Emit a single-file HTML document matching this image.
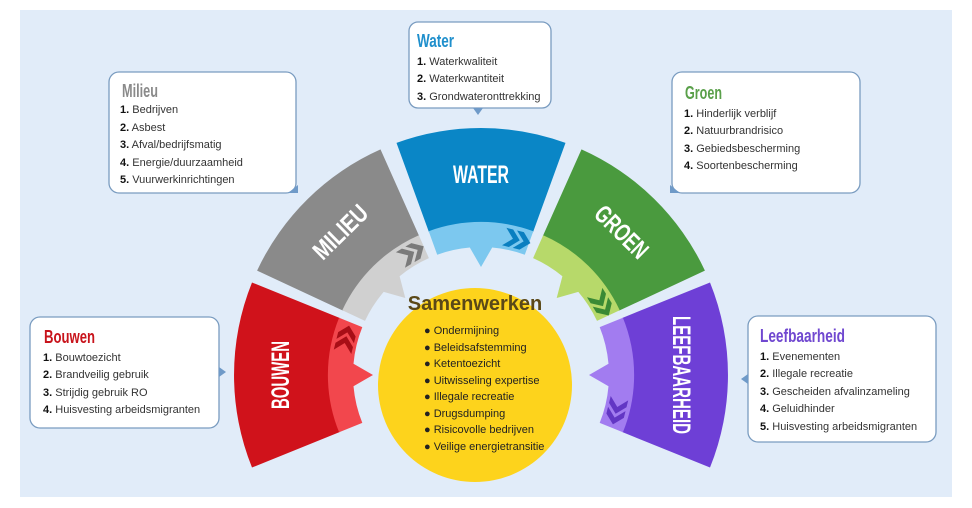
<!DOCTYPE html>
<html><head><meta charset="utf-8"><style>
html,body{margin:0;padding:0;background:#fff;width:972px;height:508px;overflow:hidden}
svg{display:block}
.t{font-family:"Liberation Sans",sans-serif;font-weight:bold}
.i{font-family:"Liberation Sans",sans-serif;font-size:11px;fill:#333}
.i tspan.n{font-weight:bold;fill:#111}
</style></head><body>
<svg id="s" width="972" height="508" viewBox="0 0 972 508" xmlns="http://www.w3.org/2000/svg">
<rect x="20" y="10" width="932" height="487" fill="#e1ecf9"/>
<g id="g"></g>
<circle cx="475" cy="385" r="97" fill="#fdd31c"/>
<text x="475" y="310" text-anchor="middle" font-family="Liberation Sans,sans-serif" font-weight="bold" font-size="20" fill="#5a4818">Samenwerken</text>
<g font-family="Liberation Sans,sans-serif" font-size="11" fill="#222">
<text x="424" y="334">● Ondermijning</text>
<text x="424" y="351">● Beleidsafstemming</text>
<text x="424" y="367">● Ketentoezicht</text>
<text x="424" y="384">● Uitwisseling expertise</text>
<text x="424" y="400">● Illegale recreatie</text>
<text x="424" y="417">● Drugsdumping</text>
<text x="424" y="433">● Risicovolle bedrijven</text>
<text x="424" y="450">● Veilige energietransitie</text>
</g>
<g stroke="#7a9cc0" stroke-width="1.3" fill="#fff">
<rect x="109" y="72" width="187" height="121" rx="10"/>
<rect x="409" y="22" width="142" height="86" rx="9"/>
<rect x="672" y="72" width="188" height="121" rx="10"/>
<rect x="30" y="317" width="189" height="111" rx="10"/>
<rect x="748" y="316" width="188" height="126" rx="10"/>
</g>
<g fill="#6f9ac8">
<path d="M288 193 L298 193 L298 185 Z"/>
<path d="M473 108 L483 108 L478 115 Z"/>
<path d="M670 185 L670 193 L680 193 Z"/>
<path d="M219 367 L226 372 L219 377 Z"/>
<path d="M748 374 L741 379 L748 384 Z"/>
</g>
<text class="t" x="122" y="97" font-size="18" fill="#8a8a8a" textLength="36" lengthAdjust="spacingAndGlyphs">Milieu</text>
<text class="i" x="120" y="113"><tspan class="n">1.</tspan> Bedrijven</text>
<text class="i" x="120" y="131"><tspan class="n">2.</tspan> Asbest</text>
<text class="i" x="120" y="148"><tspan class="n">3.</tspan> Afval/bedrijfsmatig</text>
<text class="i" x="120" y="166"><tspan class="n">4.</tspan> Energie/duurzaamheid</text>
<text class="i" x="120" y="183"><tspan class="n">5.</tspan> Vuurwerkinrichtingen</text>

<text class="t" x="417" y="47" font-size="18" fill="#1f8fcc" textLength="37" lengthAdjust="spacingAndGlyphs">Water</text>
<text class="i" x="417" y="65"><tspan class="n">1.</tspan> Waterkwaliteit</text>
<text class="i" x="417" y="82"><tspan class="n">2.</tspan> Waterkwantiteit</text>
<text class="i" x="417" y="100"><tspan class="n">3.</tspan> Grondwateronttrekking</text>

<text class="t" x="685" y="99" font-size="18" fill="#5aa04a" textLength="37" lengthAdjust="spacingAndGlyphs">Groen</text>
<text class="i" x="684" y="117"><tspan class="n">1.</tspan> Hinderlijk verblijf</text>
<text class="i" x="684" y="134"><tspan class="n">2.</tspan> Natuurbrandrisico</text>
<text class="i" x="684" y="152"><tspan class="n">3.</tspan> Gebiedsbescherming</text>
<text class="i" x="684" y="169"><tspan class="n">4.</tspan> Soortenbescherming</text>

<text class="t" x="44" y="343" font-size="18" fill="#c8141c" textLength="51" lengthAdjust="spacingAndGlyphs">Bouwen</text>
<text class="i" x="43" y="361"><tspan class="n">1.</tspan> Bouwtoezicht</text>
<text class="i" x="43" y="378"><tspan class="n">2.</tspan> Brandveilig gebruik</text>
<text class="i" x="43" y="396"><tspan class="n">3.</tspan> Strijdig gebruik RO</text>
<text class="i" x="43" y="413"><tspan class="n">4.</tspan> Huisvesting arbeidsmigranten</text>

<text class="t" x="760" y="342" font-size="18" fill="#7048d0" textLength="85" lengthAdjust="spacingAndGlyphs">Leefbaarheid</text>
<text class="i" x="760" y="360"><tspan class="n">1.</tspan> Evenementen</text>
<text class="i" x="760" y="377"><tspan class="n">2.</tspan> Illegale recreatie</text>
<text class="i" x="760" y="395"><tspan class="n">3.</tspan> Gescheiden afvalinzameling</text>
<text class="i" x="760" y="412"><tspan class="n">4.</tspan> Geluidhinder</text>
<text class="i" x="760" y="430"><tspan class="n">5.</tspan> Huisvesting arbeidsmigranten</text>
</svg>
<script>
(function(){
var cx=481,cy=375,R=247,M=152,r=128;
function p(rr,a){var t=a*Math.PI/180;return (cx+rr*Math.cos(t)).toFixed(1)+" "+(cy-rr*Math.sin(t)).toFixed(1);}
var S=[
["BOUWEN",158,202,"#d0121b","#f2474d","#a80e16",68],
["MILIEU",114,155,"#8a8a8a","#d0d0d0","#7a7a7a",66],
["WATER",70,110,"#0a86c6","#7cc8ef","#0a7fc0",56],
["GROEN",25,66,"#4a9a3e","#b7d96a","#3a8a35",64],
["LEEFBAARHEID",-22,22,"#6e3fd6","#a27cf0","#6236c4",118]];
var g=document.getElementById("g"),h="";
S.forEach(function(s){
var a1=s[1],a2=s[2],m=(a1+a2)/2;
h+='<path fill="'+s[3]+'" d="M'+p(R,a1)+' A'+R+' '+R+' 0 0 0 '+p(R,a2)+' L'+p(M,a2)+' A'+M+' '+M+' 0 0 1 '+p(M,a1)+'Z"/>';
h+='<path fill="'+s[4]+'" d="M'+p(M+1,a1)+' A'+M+' '+M+' 0 0 0 '+p(M+1,a2)+' L'+p(r,a2)+' A'+r+' '+r+' 0 0 1 '+p(r,m+5)+' L'+p(108,m)+' L'+p(r,m-5)+' A'+r+' '+r+' 0 0 1 '+p(r,a1)+'Z"/>';
var ca=m-14,t=ca*Math.PI/180,x=cx+140*Math.cos(t),y=cy-140*Math.sin(t);
var rot=Math.atan2(Math.cos(t),Math.sin(t))*180/Math.PI;
h+='<g transform="translate('+x.toFixed(1)+' '+y.toFixed(1)+') rotate('+rot.toFixed(1)+')" fill="'+s[5]+'"><path d="M-11 -9 L-4 -9 L5 0 L-4 9 L-11 9 L-2 0Z"/><path d="M0 -9 L7 -9 L16 0 L7 9 L0 9 L9 0Z"/></g>';
var lt=m*Math.PI/180,lx=cx+200*Math.cos(lt),ly=cy-200*Math.sin(lt);
h+='<text class="t" fill="#fff" font-size="25" text-anchor="middle" dominant-baseline="central" textLength="'+s[6]+'" lengthAdjust="spacingAndGlyphs" transform="translate('+lx.toFixed(1)+' '+ly.toFixed(1)+') rotate('+(90-m).toFixed(1)+')">'+s[0]+'</text>';
});
g.innerHTML=h;
})();
</script>
</body></html>
